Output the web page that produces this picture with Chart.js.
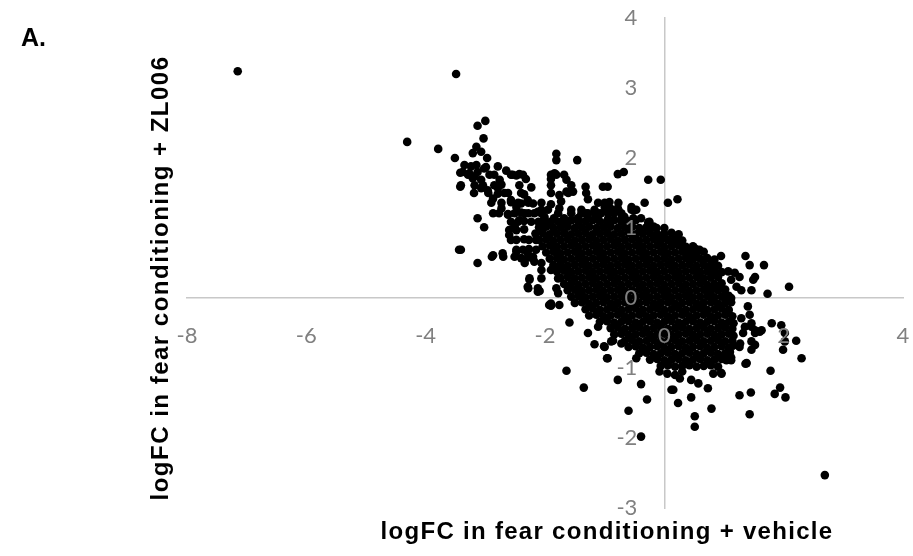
<!DOCTYPE html>
<html>
<head>
<meta charset="utf-8">
<script src="https://cdn.jsdelivr.net/npm/chart.js@4.4.1/dist/chart.umd.min.js"></script>
<style>
html,body{margin:0;padding:0;background:#fff;}
canvas{display:block;}
</style>
</head>
<body>
<canvas id="c" width="913" height="556"></canvas>
<script>
// ---- tick labels ----
const xTicks = [-8, -6, -4, -2, 0, 2, 4];
const yTicks = [-3, -2, -1, 0, 1, 2, 3, 4];

// ---- texts ----
const panelLabel = "A.";
const xTitle = "logFC in fear conditioning + vehicle";
const yTitle = "logFC in fear conditioning + ZL006";

// ---- data: [logFC vehicle, logFC ZL006] ----
const outliers = [[-7.15,3.24],[-3.49,3.20],[-4.31,2.23],[-3.79,2.13],[-3.51,2.00],[-3.42,1.79],[-3.42,1.59],[-3.44,0.69],[2.69,-2.53]];

const armPoints = [
[-3.13,2.46],[-3.00,2.53],[-3.03,2.28],[-3.15,2.16],[-3.07,2.09],[-3.21,2.07],[-2.97,2.00],
[-3.35,1.90],[-3.24,1.88],[-3.15,1.90],[-3.38,1.80],[-3.27,1.78],[-3.13,1.80],[-3.21,1.71],[-3.07,1.69],
[-3.02,1.85],[-2.93,1.76],[-2.99,1.87],[-2.79,1.88],[-2.65,1.82],[-2.54,1.76],[-2.43,1.77],[-2.32,1.70],[-2.23,1.58],
[-3.29,1.76],[-3.18,1.74],[-2.85,1.76],[-2.57,1.76],[-2.48,1.75],[-2.37,1.76],
[-3.41,1.61],[-3.18,1.61],[-3.04,1.61],[-2.85,1.61],[-2.73,1.62],[-2.43,1.61],
[-3.07,1.57],[-2.96,1.54],[-2.87,1.42],[-2.76,1.69],[-2.79,1.57],[-2.68,1.50],[-2.57,1.40],[-2.48,1.30],[-2.40,1.35],[-2.29,1.40],
[-3.19,1.50],[-2.95,1.50],[-2.79,1.49],[-2.62,1.50],[-2.40,1.50],[-2.35,1.48],
[-2.90,1.36],[-2.73,1.36],[-2.57,1.37],[-2.45,1.36],[-2.28,1.36],[-2.20,1.35],[-2.06,1.36],
[-2.87,1.21],[-2.77,1.21],[-2.62,1.20],[-2.51,1.21],[-2.40,1.22],[-2.28,1.21],[-2.18,1.21],[-2.06,1.21],
[-3.13,1.14],[-3.02,1.01],[-2.73,1.28],[-2.62,1.19],[-2.34,1.21],[-2.12,1.23],[-2.01,1.16],
[-2.57,1.09],[-2.45,1.09],[-2.35,1.10],[-2.23,1.09],[-2.11,1.09],[-2.01,1.08],[-1.90,1.09],[-1.78,1.09],[-1.68,1.09],
[-2.60,0.97],[-2.48,0.97],[-2.35,0.98],[-2.60,0.90],[-2.51,1.02],[-2.43,1.11],
[-2.57,0.83],[-2.48,0.83],[-2.35,0.84],[-2.27,0.83],[-2.15,0.83],
[-2.48,0.69],[-2.37,0.69],[-2.27,0.70],[-2.15,0.69],
[-3.41,0.69],[-3.13,0.50],[-2.87,0.61],[-2.71,0.64],[-2.89,0.59],[-2.70,0.59],
[-2.48,0.66],[-2.40,0.57],[-2.29,0.64],[-2.18,0.52],[-2.34,0.50],[-2.51,0.59],[-2.28,0.58],[-2.20,0.59],[-2.06,0.50],
[-2.06,0.40],[-1.90,0.40],[-1.78,0.41],[-2.26,0.28],[-2.06,0.28],[-1.78,0.28],
[-2.28,0.14],[-2.12,0.14],[-1.81,0.14],[-1.61,0.14],[-1.93,-0.10],[-1.76,-0.10],
[-2.26,0.26],[-2.29,0.16],[-2.09,0.10],[-2.12,0.09],[-1.90,-0.08],[-1.90,-0.11],[-1.78,0.07]
];

const upperPoints = [
[-1.81,2.06],[-1.81,1.97],[-1.46,1.97],[-1.84,1.78],[-1.90,1.70],[-1.64,1.69],[-1.90,1.76],[-1.81,1.76],[-1.68,1.76],
[-0.78,1.77],[-0.68,1.80],[-0.27,1.69],[-0.06,1.69],
[-1.90,1.50],[-1.76,1.47],[-1.64,1.52],[-1.53,1.52],[-1.73,1.38],[-1.90,1.34],[-1.76,1.28],[-1.90,1.61],[-1.56,1.61],
[-1.32,1.59],[-1.28,1.41],[-1.03,1.59],[-0.95,1.59],[-1.31,1.50],[-1.61,1.50],
[-0.33,1.36],[0.06,1.36],[0.22,1.41],[-1.11,1.36],[-1.00,1.36],[-0.92,1.37],[-0.77,1.36],
[-2.06,1.26],[-1.95,1.26],[-1.56,1.26],[-1.39,1.26],[-1.17,1.26],[-0.97,1.26],[-0.89,1.27],[-0.77,1.26],[-0.55,1.26],[-0.47,1.26],
[-1.00,1.30],[-0.78,1.28],[-0.55,1.30],[-0.51,1.25],[-1.78,1.21],[-1.56,1.21],[-1.39,1.21],[-1.28,1.21],[-1.17,1.21],[-1.06,1.21],[-0.94,1.21],[-0.84,1.21],[-0.72,1.21],
[-2.01,1.14],[-1.85,1.14],[-1.68,1.14],[-1.44,1.14],[-1.28,1.14],[-1.11,1.14],[-0.94,1.14],[-0.72,1.14],[-0.52,1.14],[-0.39,1.14],
[-0.27,1.08],[-0.53,1.11],[-0.67,1.16],[-1.31,1.21],[-1.11,1.21],[-1.45,1.14],[-1.56,1.11],[-0.25,1.09],[-0.13,1.00],[0.00,1.00]
];

const coreTop = [
[-1.68,1.10],[-1.56,1.11],[-1.44,1.09],[-1.32,1.10],[-1.20,1.11],[-1.08,1.09],[-0.96,1.10],[-0.84,1.11],[-0.72,1.09],[-0.60,1.10],[-0.48,1.11],
[-2.10,1.01],[-1.98,1.02],[-1.86,1.00],[-1.74,1.01],[-1.62,1.02],[-1.50,1.00],[-1.38,1.01],[-1.26,1.02],[-1.14,1.00],[-1.02,1.01],[-0.90,1.02],[-0.78,1.00],[-0.66,1.01],[-0.54,1.02],[-0.42,1.00],[-0.30,1.01],[-0.18,1.02],
[-2.16,0.92],[-2.04,0.93],[-1.92,0.91],[-1.80,0.92],[-1.68,0.93],[-1.56,0.91],[-1.44,0.92],[-1.32,0.93],[-1.20,0.91],[-1.08,0.92],[-0.96,0.93],[-0.84,0.91],[-0.72,0.92],[-0.60,0.93],[-0.48,0.91],[-0.36,0.92],[-0.24,0.93],[-0.12,0.91],[0.00,0.92],[0.12,0.93],[0.24,0.91],
[-2.10,0.83],[-1.98,0.84],[-1.86,0.82],[-1.74,0.83],[-1.62,0.84],[-1.50,0.82],[-1.38,0.83],[-1.26,0.84],[-1.14,0.82],[-1.02,0.83],[-0.90,0.84],[-0.78,0.82],[-0.66,0.83],[-0.54,0.84],[-0.42,0.82],[-0.30,0.83],[-0.18,0.84],[-0.06,0.82],[0.06,0.83],[0.18,0.84],[0.30,0.82],
[-2.04,0.74],[-1.92,0.75],[-1.80,0.73],[-1.68,0.74],[-1.56,0.75],[-1.44,0.73],[-1.32,0.74],[-1.20,0.75],[-1.08,0.73],[-0.96,0.74],[-0.84,0.75],[-0.72,0.73],[-0.60,0.74],[-0.48,0.75],[-0.36,0.73],[-0.24,0.74],[-0.12,0.75],[0.00,0.73],[0.12,0.74],[0.24,0.75],[0.36,0.73],[0.48,0.74],
[-1.98,0.65],[-1.86,0.66],[-1.74,0.64],[-1.62,0.65],[-1.50,0.66],[-1.38,0.64],[-1.26,0.65],[-1.14,0.66],[-1.02,0.64],[-0.90,0.65],[-0.78,0.66],[-0.66,0.64],[-0.54,0.65],[-0.42,0.66],[-0.30,0.64],[-0.18,0.65],[-0.06,0.66],[0.06,0.64],[0.18,0.65],[0.30,0.66],[0.42,0.64],[0.54,0.65],[0.66,0.66],
[-1.92,0.56],[-1.80,0.57],[-1.68,0.55],[-1.56,0.56],[-1.44,0.57],[-1.32,0.55],[-1.20,0.56],[-1.08,0.57],[-0.96,0.55],[-0.84,0.56],[-0.72,0.57],[-0.60,0.55],[-0.48,0.56],[-0.36,0.57],[-0.24,0.55],[-0.12,0.56],[0.00,0.57],[0.12,0.55],[0.24,0.56],[0.36,0.57],[0.48,0.55],[0.60,0.56],[0.72,0.57],[0.84,0.55]
];

const coreMid = [
[-1.86,0.47],[-1.74,0.48],[-1.62,0.46],[-1.50,0.47],[-1.38,0.48],[-1.26,0.46],[-1.14,0.47],[-1.02,0.48],[-0.90,0.46],[-0.78,0.47],[-0.66,0.48],[-0.54,0.46],[-0.42,0.47],[-0.30,0.48],[-0.18,0.46],[-0.06,0.47],[0.06,0.48],[0.18,0.46],[0.30,0.47],[0.42,0.48],[0.54,0.46],[0.66,0.47],[0.78,0.48],[0.90,0.46],
[-1.80,0.38],[-1.68,0.39],[-1.56,0.37],[-1.44,0.38],[-1.32,0.39],[-1.20,0.37],[-1.08,0.38],[-0.96,0.39],[-0.84,0.37],[-0.72,0.38],[-0.60,0.39],[-0.48,0.37],[-0.36,0.38],[-0.24,0.39],[-0.12,0.37],[0.00,0.38],[0.12,0.39],[0.24,0.37],[0.36,0.38],[0.48,0.39],[0.60,0.37],[0.72,0.38],[0.84,0.39],[0.96,0.37],
[-1.74,0.29],[-1.62,0.30],[-1.50,0.28],[-1.38,0.29],[-1.26,0.30],[-1.14,0.28],[-1.02,0.29],[-0.90,0.30],[-0.78,0.28],[-0.66,0.29],[-0.54,0.30],[-0.42,0.28],[-0.30,0.29],[-0.18,0.30],[-0.06,0.28],[0.06,0.29],[0.18,0.30],[0.30,0.28],[0.42,0.29],[0.54,0.30],[0.66,0.28],[0.78,0.29],[0.90,0.30],
[-1.68,0.20],[-1.56,0.21],[-1.44,0.19],[-1.32,0.20],[-1.20,0.21],[-1.08,0.19],[-0.96,0.20],[-0.84,0.21],[-0.72,0.19],[-0.60,0.20],[-0.48,0.21],[-0.36,0.19],[-0.24,0.20],[-0.12,0.21],[0.00,0.19],[0.12,0.20],[0.24,0.21],[0.36,0.19],[0.48,0.20],[0.60,0.21],[0.72,0.19],[0.84,0.20],[0.96,0.21],
[-1.62,0.11],[-1.50,0.12],[-1.38,0.10],[-1.26,0.11],[-1.14,0.12],[-1.02,0.10],[-0.90,0.11],[-0.78,0.12],[-0.66,0.10],[-0.54,0.11],[-0.42,0.12],[-0.30,0.10],[-0.18,0.11],[-0.06,0.12],[0.06,0.10],[0.18,0.11],[0.30,0.12],[0.42,0.10],[0.54,0.11],[0.66,0.12],[0.78,0.10],[0.90,0.11],[1.02,0.12],
[-1.56,0.02],[-1.44,0.03],[-1.32,0.01],[-1.20,0.02],[-1.08,0.03],[-0.96,0.01],[-0.84,0.02],[-0.72,0.03],[-0.60,0.01],[-0.48,0.02],[-0.36,0.03],[-0.24,0.01],[-0.12,0.02],[0.00,0.03],[0.12,0.01],[0.24,0.02],[0.36,0.03],[0.48,0.01],[0.60,0.02],[0.72,0.03],[0.84,0.01],[0.96,0.02],[1.08,0.03],
[-1.50,-0.07],[-1.38,-0.06],[-1.26,-0.08],[-1.14,-0.07],[-1.02,-0.06],[-0.90,-0.08],[-0.78,-0.07],[-0.66,-0.06],[-0.54,-0.08],[-0.42,-0.07],[-0.30,-0.06],[-0.18,-0.08],[-0.06,-0.07],[0.06,-0.06],[0.18,-0.08],[0.30,-0.07],[0.42,-0.06],[0.54,-0.08],[0.66,-0.07],[0.78,-0.06],[0.90,-0.08],[1.02,-0.07],[1.12,-0.06],
[-1.32,-0.16],[-1.20,-0.15],[-1.08,-0.17],[-0.96,-0.16],[-0.84,-0.15],[-0.72,-0.17],[-0.60,-0.16],[-0.48,-0.15],[-0.36,-0.17],[-0.24,-0.16],[-0.12,-0.15],[0.00,-0.17],[0.12,-0.16],[0.24,-0.15],[0.36,-0.17],[0.48,-0.16],[0.60,-0.15],[0.72,-0.17],[0.84,-0.16],[0.96,-0.15],[1.08,-0.17]
];

const coreBottom = [
[-1.26,-0.25],[-1.14,-0.24],[-1.02,-0.26],[-0.90,-0.25],[-0.78,-0.24],[-0.66,-0.26],[-0.54,-0.25],[-0.42,-0.24],[-0.30,-0.26],[-0.18,-0.25],[-0.06,-0.24],[0.06,-0.26],[0.18,-0.25],[0.30,-0.24],[0.42,-0.26],[0.54,-0.25],[0.66,-0.24],[0.78,-0.26],[0.90,-0.25],[1.02,-0.24],[1.14,-0.26],
[-1.08,-0.34],[-0.96,-0.33],[-0.84,-0.35],[-0.72,-0.34],[-0.60,-0.33],[-0.48,-0.35],[-0.36,-0.34],[-0.24,-0.33],[-0.12,-0.35],[0.00,-0.34],[0.12,-0.33],[0.24,-0.35],[0.36,-0.34],[0.48,-0.33],[0.60,-0.35],[0.72,-0.34],[0.84,-0.33],[0.96,-0.35],[1.08,-0.34],[1.16,-0.36],
[-0.90,-0.43],[-0.78,-0.42],[-0.66,-0.44],[-0.54,-0.43],[-0.42,-0.42],[-0.30,-0.44],[-0.18,-0.43],[-0.06,-0.42],[0.06,-0.44],[0.18,-0.43],[0.30,-0.42],[0.42,-0.44],[0.54,-0.43],[0.66,-0.42],[0.78,-0.44],[0.90,-0.43],[1.02,-0.42],[1.14,-0.44],
[-0.84,-0.52],[-0.72,-0.51],[-0.60,-0.53],[-0.48,-0.52],[-0.36,-0.51],[-0.24,-0.53],[-0.12,-0.52],[0.00,-0.51],[0.12,-0.53],[0.24,-0.52],[0.36,-0.51],[0.48,-0.53],[0.60,-0.52],[0.72,-0.51],[0.84,-0.53],[0.96,-0.52],[1.08,-0.51],[1.16,-0.54],
[-0.66,-0.61],[-0.54,-0.60],[-0.42,-0.62],[-0.30,-0.61],[-0.18,-0.60],[-0.06,-0.62],[0.06,-0.61],[0.18,-0.60],[0.30,-0.62],[0.42,-0.61],[0.54,-0.60],[0.66,-0.62],[0.78,-0.61],[0.90,-0.60],[1.02,-0.62],[1.14,-0.61],
[-0.60,-0.70],[-0.48,-0.69],[-0.36,-0.71],[-0.24,-0.70],[-0.12,-0.69],[0.00,-0.71],[0.12,-0.70],[0.24,-0.69],[0.36,-0.71],[0.48,-0.70],[0.60,-0.69],[0.72,-0.71],[0.84,-0.70],[0.96,-0.69],[1.08,-0.71],[1.15,-0.68],
[-0.42,-0.79],[-0.30,-0.78],[-0.18,-0.80],[-0.06,-0.79],[0.06,-0.78],[0.18,-0.80],[0.30,-0.79],[0.42,-0.78],[0.54,-0.80],[0.66,-0.79],[0.78,-0.78],[0.90,-0.80],[1.02,-0.79],[1.10,-0.77],
[-0.24,-0.88],[-0.12,-0.87],[0.00,-0.89],[0.12,-0.88],[0.24,-0.87],[0.36,-0.89],[0.48,-0.88],[0.60,-0.87],[0.72,-0.89],[0.84,-0.88],[0.96,-0.87],[1.04,-0.89],
[-0.06,-0.97],[0.06,-0.96],[0.18,-0.98],[0.30,-0.97],[0.42,-0.96],[0.54,-0.98],[0.66,-0.97],[0.78,-0.96],[0.90,-0.98],
[-0.08,-1.05],[0.05,-1.08],[0.18,-1.10],[0.30,-1.05]
];

const rightPoints = [
[-0.13,0.90],[-0.02,0.90],[0.17,0.83],[0.20,0.78],
[0.42,0.69],[0.51,0.71],[0.59,0.69],[0.45,0.59],[0.54,0.61],[0.65,0.54],[0.73,0.40],[0.79,0.33],
[0.95,0.60],[1.36,0.60],[1.43,0.47],[1.67,0.47],
[1.07,0.38],[1.18,0.36],[1.26,0.30],[1.12,0.26],[1.21,0.16],[1.29,0.11],[1.52,0.30],[1.49,0.26],[1.46,0.11],[1.73,0.06],
[2.09,0.16],[0.82,0.16],[0.93,0.14],[1.01,0.04],[1.12,0.00],
[1.40,-0.12],[1.43,-0.24],[1.29,-0.29],[1.35,-0.41],[1.46,-0.41],[1.32,-0.50],[1.52,-0.50],[1.60,-0.48],[1.80,-0.36],[1.96,-0.39],[2.21,-0.61],[1.27,-0.65],[1.52,-0.67],
[1.46,-0.36],[1.52,-0.46],[1.46,-0.62],[1.46,-0.74],[1.63,-0.46],[2.02,-0.50],[2.02,-0.62],[1.99,-0.74],[2.30,-0.86],
[1.26,-0.70],[1.38,-0.93],[1.12,-0.89],[0.96,-1.08],[1.78,-1.04],[1.36,-0.94],[0.95,-1.07],[1.12,-0.85],
[1.26,-1.39],[1.45,-1.35],[1.43,-1.66],[1.85,-1.37],[1.94,-1.28],[2.03,-1.42]
];

const lowerPoints = [
[0.79,-1.58],[0.51,-1.69],[0.51,-1.84],
[0.45,-1.42],[0.23,-1.50],[0.15,-1.31],[0.26,-1.15],[0.45,-1.17],[0.57,-1.22],[0.73,-1.29],[0.82,-1.08],[0.12,-1.31],
[-0.39,-1.98],[-0.60,-1.61],[-0.29,-1.45],[-0.39,-1.23],[-0.78,-1.17],[-0.47,-0.86],[-1.35,-1.28],[-1.64,-1.04],
[-0.95,-0.86],[-1.00,-0.70],[-1.17,-0.66],[-0.89,-0.62],[-0.72,-0.65],[-1.01,-0.69],[-0.96,-0.86],[-0.86,-0.61],
[-1.59,-0.35],[-1.28,-0.50],[-1.11,-0.41]
];

const allPoints = [].concat(outliers, armPoints, upperPoints, coreTop, coreMid, coreBottom, rightPoints, lowerPoints)
  .map(p => ({x: p[0], y: p[1]}));

// titles drawn around the plot
const titlesPlugin = {
  id: 'titles',
  afterDraw(chart) {
    const ctx = chart.ctx;
    ctx.save();
    ctx.fillStyle = '#000';
    ctx.font = 'bold 25px "Liberation Sans", Arial, sans-serif';
    ctx.textAlign = 'left';
    ctx.textBaseline = 'alphabetic';
    ctx.fillText(panelLabel, 21, 46);
    ctx.font = 'bold 24px "Liberation Sans", Arial, sans-serif';
    ctx.letterSpacing = '1.3px';
    ctx.textAlign = 'center';
    ctx.fillText(xTitle, 607, 539);
    ctx.letterSpacing = '1.5px';
    ctx.translate(168, 278);
    ctx.rotate(-Math.PI / 2);
    ctx.fillText(yTitle, 0, 0);
    ctx.restore();
  }
};

// y tick labels sit left of the crossing axis, with a gap
const yLabelGap = {
  id: 'yLabelGap',
  beforeDraw(chart) {
    const s = chart.scales.y;
    const items = s.getLabelItems(chart.chartArea);
    items.forEach(it => {
      if (!it._moved) { it.options.translation[0] -= 27; it._moved = true; }
    });
  }
};

const noPad = s => { s.paddingLeft = 0; s.paddingRight = 0; s.paddingTop = 0; s.paddingBottom = 0; };
const tickFont = {family: 'Lato, "Open Sans", sans-serif', size: 22};

new Chart(document.getElementById('c'), {
  type: 'scatter',
  data: {
    datasets: [{
      data: allPoints,
      backgroundColor: '#000',
      borderColor: '#000',
      borderWidth: 0,
      pointRadius: 4.3,
      pointHoverRadius: 4.3
    }]
  },
  options: {
    responsive: false,
    animation: false,
    devicePixelRatio: 1,
    layout: {padding: {left: 187, right: 10, top: 18, bottom: 48}},
    plugins: {legend: {display: false}, tooltip: {enabled: false}},
    scales: {
      x: {
        type: 'linear', min: -8, max: 4,
        position: {y: 0},
        grid: {display: false, drawTicks: false},
        border: {display: true, color: '#c8c8c8', width: 1.5},
        ticks: {color: '#808080', font: tickFont, padding: 25, z: 1},
        afterBuildTicks: s => { s.ticks = xTicks.map(v => ({value: v})); },
        afterFit: noPad
      },
      y: {
        type: 'linear', min: -3, max: 4,
        position: {x: 0},
        grid: {display: false, drawTicks: false},
        border: {display: true, color: '#c8c8c8', width: 1.5},
        ticks: {color: '#808080', font: tickFont, padding: 0, z: 1},
        afterBuildTicks: s => { s.ticks = yTicks.map(v => ({value: v})); },
        afterFit: noPad
      }
    }
  },
  plugins: [titlesPlugin, yLabelGap]
});
</script>
</body>
</html>
